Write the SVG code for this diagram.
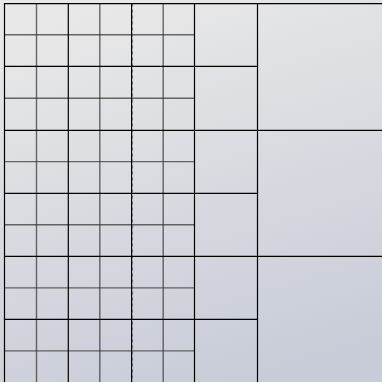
<svg xmlns="http://www.w3.org/2000/svg" width="382" height="382" viewBox="0 0 382 382">
  <defs>
    <linearGradient id="bg" x1="0.35" y1="0" x2="0.65" y2="1">
      <stop offset="0" stop-color="#e8e8e8"/>
      <stop offset="1" stop-color="#c8ccd8"/>
    </linearGradient>
  </defs>
  <style>
    .major { stroke: #000000; stroke-width: 1.2; fill: none; }
    .minor { stroke: #3a3a3a; stroke-opacity: 0.75; stroke-width: 1.4; fill: none; }
    .dash { stroke: #666666; stroke-opacity: 0.7; stroke-width: 1; stroke-dasharray: 3 3; fill: none; }
  </style>
  <rect x="0" y="0" width="382" height="382" fill="url(#bg)"/>
  <g id="minor-lines">
    <line class="minor" x1="36.5" y1="3.5" x2="36.5" y2="382"/>
    <line class="minor" x1="99.8" y1="3.5" x2="99.8" y2="382"/>
    <line class="minor" x1="163.2" y1="3.5" x2="163.2" y2="382"/>
    <line class="minor" x1="4.5" y1="34.8" x2="194.5" y2="34.8"/>
    <line class="minor" x1="4.5" y1="98.2" x2="194.5" y2="98.2"/>
    <line class="minor" x1="4.5" y1="161.6" x2="194.5" y2="161.6"/>
    <line class="minor" x1="4.5" y1="224.8" x2="194.5" y2="224.8"/>
    <line class="minor" x1="4.5" y1="287.9" x2="194.5" y2="287.9"/>
    <line class="minor" x1="4.5" y1="350.9" x2="194.5" y2="350.9"/>
    <line class="dash" x1="132.6" y1="3.5" x2="132.6" y2="382"/>
  </g>
  <g id="major-lines">
    <line class="major" x1="4.5" y1="3.7" x2="382" y2="3.7"/>
    <line class="major" x1="4.5" y1="130.3" x2="382" y2="130.3"/>
    <line class="major" x1="4.5" y1="256.3" x2="382" y2="256.3"/>
    <line class="major" x1="4.5" y1="66.4" x2="257.5" y2="66.4"/>
    <line class="major" x1="4.5" y1="193.3" x2="257.5" y2="193.3"/>
    <line class="major" x1="4.5" y1="319.4" x2="257.5" y2="319.4"/>
    <line class="major" x1="4.5" y1="3" x2="4.5" y2="382"/>
    <line class="major" x1="68.3" y1="3" x2="68.3" y2="382"/>
    <line class="major" x1="131.6" y1="3" x2="131.6" y2="382"/>
    <line class="major" x1="194.5" y1="3" x2="194.5" y2="382"/>
    <line class="major" x1="257.5" y1="3" x2="257.5" y2="382"/>
  </g>
</svg>
